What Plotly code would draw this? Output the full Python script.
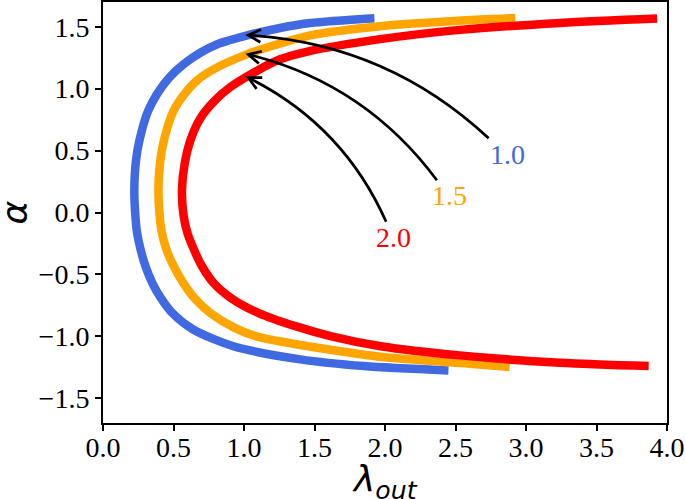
import numpy as np
import plotly.graph_objects as go

# curves: lambda_out (x) against alpha (y), bottom end -> top end
blue_x = [2.45, 1.85, 1.40, 0.925, 0.64, 0.49, 0.41, 0.35, 0.30, 0.267, 0.24, 0.228, 0.222, 0.228, 0.244,
          0.275, 0.32, 0.385, 0.47, 0.575, 0.69, 0.807, 1.03, 1.256, 1.47, 1.925]
blue_y = [-1.275, -1.24, -1.186, -1.08, -0.945, -0.81, -0.69, -0.57, -0.43, -0.30, -0.15, 0.0, 0.18, 0.35, 0.50,
          0.66, 0.82, 0.96, 1.09, 1.20, 1.29, 1.357, 1.432, 1.49, 1.53, 1.569]

orange_x = [2.884, 2.675, 1.966, 1.62, 1.40, 1.10, 0.93, 0.76, 0.655, 0.57, 0.50, 0.45, 0.415, 0.40, 0.393, 0.40,
            0.417, 0.45, 0.50, 0.58, 0.67, 0.79, 1.02, 1.256, 1.47, 1.966, 2.675, 2.924]
orange_y = [-1.248, -1.227, -1.165, -1.11, -1.07, -1.005, -0.93, -0.81, -0.70, -0.57, -0.43, -0.30, -0.15, 0.0, 0.18,
            0.35, 0.50, 0.66, 0.82, 0.96, 1.07, 1.16, 1.277, 1.365, 1.43, 1.504, 1.558, 1.571]

red_x = [3.87, 3.24, 2.53, 1.97, 1.62, 1.37, 1.10, 0.92, 0.785, 0.70, 0.645, 0.60, 0.572, 0.56, 0.58, 0.625,
         0.69, 0.79, 0.90, 1.09, 1.256, 1.45, 1.966, 2.53, 3.244, 3.93]
red_y = [-1.24, -1.213, -1.154, -1.08, -1.0, -0.92, -0.81, -0.70, -0.57, -0.43, -0.30, -0.17, -0.03, 0.18, 0.40, 0.60,
         0.76, 0.90, 1.01, 1.143, 1.237, 1.30, 1.40, 1.475, 1.531, 1.566]

colors = ["#4169E1", "#FFA500", "#FF0000"]

# curved arrows with their labels
labels = ["1.0", "1.5", "2.0"]
label_x = [2.87, 2.46, 2.06]
label_y = [0.47, 0.14, -0.20]
tip_x = [1.03, 1.03, 1.03]
tip_y = [1.432, 1.277, 1.089]
tail_x = [2.735, 2.368, 2.008]
tail_y = [0.60, 0.26, -0.075]

XR = [0, 4]
YR = [-1.7, 1.7]
W, H = 685, 499
L, R, T, B = 103, 18, 2, 76
pw, ph = W - L - R, H - T - B


def to_px(x, y):
    return ((x - XR[0]) / (XR[1] - XR[0]) * pw, (y - YR[0]) / (YR[1] - YR[0]) * ph)


def to_data(px, py):
    return (XR[0] + px / pw * (XR[1] - XR[0]), YR[0] + py / ph * (YR[1] - YR[0]))


fig = go.Figure()

for xs, ys, c in zip([blue_x, orange_x, red_x], [blue_y, orange_y, red_y], colors):
    fig.add_trace(go.Scatter(x=xs, y=ys, mode="lines",
                             line=dict(color=c, width=8.5, shape="spline", smoothing=0.8),
                             showlegend=False, hoverinfo="skip"))

rad = 0.18
for i in range(len(labels)):
    p0 = np.array(to_px(tail_x[i], tail_y[i]))
    p2 = np.array(to_px(tip_x[i], tip_y[i]))
    dx, dy = p2 - p0
    ctrl = (p0 + p2) / 2 + rad * np.array([dy, -dx])
    cx, cy = to_data(*ctrl)
    fig.add_shape(type="path", layer="above",
                  path=f"M {tail_x[i]},{tail_y[i]} Q {cx},{cy} {tip_x[i]},{tip_y[i]}",
                  line=dict(color="black", width=2.7))
    # open arrow head
    u = (p2 - ctrl) / np.linalg.norm(p2 - ctrl)
    th = np.radians(27)
    pts = []
    for s in (1, -1):
        rot = np.array([[np.cos(s * th), -np.sin(s * th)], [np.sin(s * th), np.cos(s * th)]])
        pts.append(to_data(*(p2 - 14 * rot @ u)))
    fig.add_shape(type="path", layer="above",
                  path=f"M {pts[0][0]},{pts[0][1]} L {tip_x[i]},{tip_y[i]} L {pts[1][0]},{pts[1][1]}",
                  line=dict(color="black", width=2.7))
    fig.add_annotation(x=label_x[i], y=label_y[i], text=labels[i], showarrow=False,
                       font=dict(family="Liberation Serif", size=28, color=colors[i]))

# axis titles as annotations so they sit where the reference has them
fig.add_annotation(xref="paper", yref="paper", x=0.5, y=-58 / ph,
                   text="<i>λ<sub>out</sub></i>", showarrow=False, yanchor="middle",
                   font=dict(family="DejaVu Sans", size=36, color="black"))
fig.add_annotation(xref="paper", yref="paper", x=-89 / pw, y=0.5, textangle=-90,
                   text="<i>α</i>", showarrow=False, xanchor="center",
                   font=dict(family="DejaVu Sans", size=36, color="black"))

axis_common = dict(showline=True, linecolor="black", linewidth=2, mirror=True,
                   ticks="outside", ticklen=6, tickwidth=2, tickcolor="black",
                   showgrid=False, zeroline=False, tickformat=".1f", automargin=False,
                   tickfont=dict(family="Liberation Serif", size=28, color="black"))

fig.update_xaxes(range=XR, dtick=0.5, tick0=0, ticklabelstandoff=-8, **axis_common)
fig.update_yaxes(range=YR, tickvals=[-1.5, -1.0, -0.5, 0.0, 0.5, 1.0, 1.5], **axis_common)

fig.update_layout(width=W, height=H, margin=dict(l=L, r=R, t=T, b=B),
                  plot_bgcolor="white", paper_bgcolor="white", showlegend=False)

fig.write_html("out.html", config={"displayModeBar": False},
               post_script="document.body.style.margin='0';")
